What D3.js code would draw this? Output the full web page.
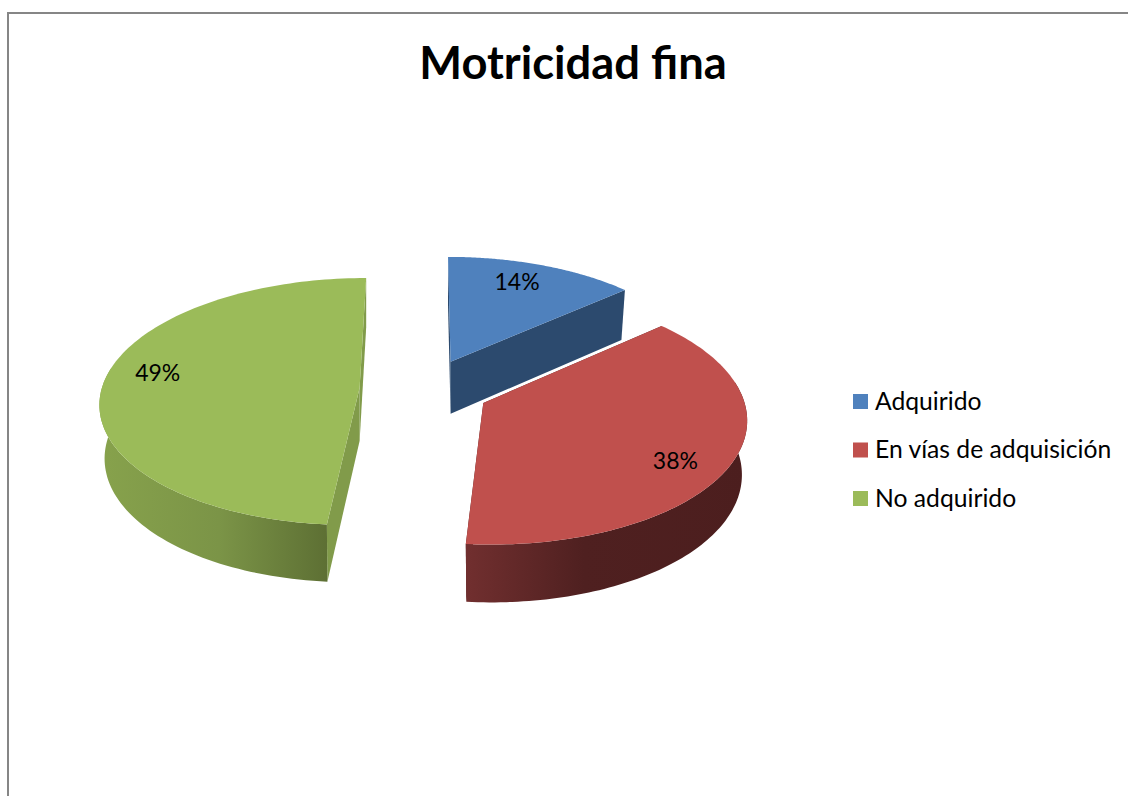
<!DOCTYPE html>
<html><head><meta charset="utf-8">
<script src="https://cdnjs.cloudflare.com/ajax/libs/d3/7.8.5/d3.min.js"></script>
<style>html,body{margin:0;padding:0;background:#fff;overflow:hidden}svg{display:block}text{font-family:Lato,"Open Sans",sans-serif;fill:#000}</style>
</head><body><svg id="c" width="1128" height="796"></svg>
<script>
const title = "Motricidad fina";
const categories = ["Adquirido", "En vías de adquisición", "No adquirido"];
const counts = [5, 14, 18];
const percentLabels = ["14%", "38%", "49%"];
const topColors = ["#4f81bd", "#c0504d", "#9bbb59"];
const faceColors = ["#2c4a6e", "#4d1f1f", "#819b4a"];
const rimStops = [
  [[0, "#2c4a6e"], [1, "#2c4a6e"]],
  [[0, "#712f2f"], [0.42, "#4f2020"], [1, "#4c1e1e"]],
  [[0, "#87a24c"], [0.45, "#7b9447"], [0.87, "#5c6e33"], [1, "#5c6e33"]]
];
const labelTurn = [-3, 5, 7];

const R = 258, explode = 65, F = 2300, H = 1090, horizon = -701, cx = 424.5;
const depthBase = 19, depthScale = 34, floorShrink = 0.02;
const svg = d3.select("#c");
const defs = svg.append("defs");

// perspective projection of a ground-plane point; level 1 is the pie's floor
function proj(x, z, level, hub) {
  const s = F / (F + z);
  const hubX = hub === undefined ? x : hub;
  const px = hubX + (x - hubX) * (1 - floorShrink * level);
  return [cx + px * s, horizon + H * s + level * (depthBase + depthScale * s)];
}
const arcs = d3.pie().sort(null).value(d => d)(counts);
const sliceGroup = svg.append("g");
const line = d3.line();
const rad = Math.PI / 180;

arcs.forEach((a, i) => {
  const mid = (a.startAngle + a.endAngle) / 2;
  const ax = explode * Math.sin(mid), az = explode * Math.cos(mid);
  const pt = (ang, r, lvl) => proj(ax + r * Math.sin(ang), az + r * Math.cos(ang), lvl, ax);
  const angs = d3.range(0, 121).map(k => a.startAngle + (a.endAngle - a.startAngle) * k / 120);
  const topRim = angs.map(t => pt(t, R, 0));
  const xExt = d3.extent(topRim, p => p[0]);

  const id = "rim" + i;
  const g = defs.append("linearGradient").attr("id", id)
    .attr("gradientUnits", "userSpaceOnUse")
    .attr("x1", xExt[0]).attr("x2", xExt[1]).attr("y1", 0).attr("y2", 0);
  g.selectAll("stop").data(rimStops[i]).join("stop")
    .attr("offset", d => d[0]).attr("stop-color", d => d[1]);

  const s = sliceGroup.append("g");
  const quad = (t) => [pt(t, 0, 0), pt(t, R, 0), pt(t, R, 1), pt(t, 0, 1)];
  s.append("path").attr("d", line(quad(a.startAngle)) + "Z").attr("fill", faceColors[i]);
  s.append("path").attr("d", line(quad(a.endAngle)) + "Z").attr("fill", faceColors[i]);
  // only the near half of the outer wall can be seen
  const near = angs.filter(t => t > 80 * rad && t < 280 * rad);
  if (near.length) {
    const wall = near.map(t => pt(t, R, 0)).concat(near.slice().reverse().map(t => pt(t, R, 1)));
    s.append("path").attr("d", line(wall) + "Z").attr("fill", `url(#${id})`);
  }
  s.append("path").attr("d", line([pt(0, 0, 0)].concat(topRim)) + "Z").attr("fill", topColors[i]);
});

// data labels
const labelGroup = svg.append("g");
arcs.forEach((a, i) => {
  const mid = (a.startAngle + a.endAngle) / 2;
  const ang = mid + labelTurn[i] * rad;
  const x = explode * Math.sin(mid) + 0.81 * R * Math.sin(ang);
  const z = explode * Math.cos(mid) + 0.81 * R * Math.cos(ang);
  const p = proj(x, z, 0);
  labelGroup.append("text").attr("x", p[0]).attr("y", p[1]).attr("dy", "0.42em")
    .attr("text-anchor", "middle").attr("font-size", 23).text(percentLabels[i]);
});

// title
svg.append("text").attr("x", 573).attr("y", 79).attr("text-anchor", "middle")
  .attr("font-size", 45.3).attr("font-weight", 700).text(title);

// legend
const legendY = d3.scalePoint().domain(categories).range([401.5, 498.5]);
const legend = svg.append("g").selectAll("g").data(categories).join("g")
  .attr("transform", d => `translate(853,${legendY(d)})`);
legend.append("rect").attr("x", 0).attr("y", -7.5).attr("width", 15).attr("height", 15)
  .attr("fill", (d, i) => topColors[i]);
legend.append("text").attr("x", 22).attr("y", 8).attr("font-size", 24.7).text(d => d);

// frame
svg.append("path").attr("d", "M8,796V13H1128").attr("fill", "none").attr("stroke", "#868686").attr("stroke-width", 2);
</script></body></html>
